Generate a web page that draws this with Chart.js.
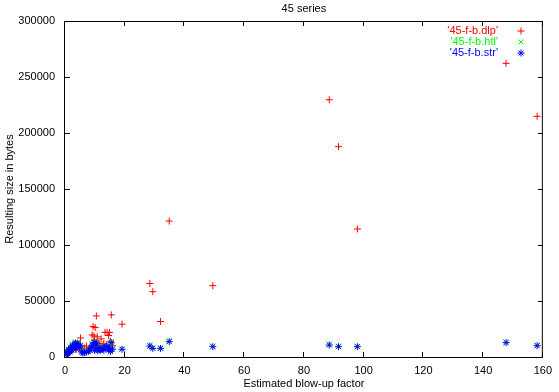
<!DOCTYPE html>
<html>
<head>
<meta charset="utf-8">
<script src="https://cdn.jsdelivr.net/npm/chart.js@4.4.0/dist/chart.umd.min.js"></script>
<style>
  html, body { margin: 0; padding: 0; background: #fff; }
</style>
</head>
<body>
<canvas id="chart" width="559" height="392"></canvas>
<script>
// blow-up factor per file, shared by the three series
const blowUp = [
  0.5, 0.8, 1.0, 1.2, 1.3, 1.6, 1.8, 2.0, 2.3, 2.5,
  2.7, 3.0, 3.3, 3.5, 3.7, 4.0, 4.2, 4.4, 4.8, 5.2,
  5.6, 6.0, 6.5, 7.2, 7.8, 8.3, 8.8, 9.1, 9.4, 9.7,
  9.9, 10.1, 10.5, 10.8, 11.0, 11.4, 11.8, 12.1, 12.8, 13.0,
  13.4, 13.8, 14.1, 14.6, 14.9, 15.2, 15.5, 15.9,
  19.1, 28.4, 29.4, 32.0, 34.9, 49.5, 88.5, 91.6, 97.9, 147.7, 158.1
];
const dlpSizes = [
  1800, 2500, 3000, 4500, 5000, 4000, 6000, 7000, 6000, 8000,
  9000, 8000, 10000, 9000, 7000, 9500, 10500, 9800, 8000, 17000,
  6000, 5000, 8000, 9800, 6000, 7500, 9000, 19700, 27100, 18800,
  15000, 26300, 36700, 18000, 12000, 12000, 10000, 16200, 11000, 12000,
  22000, 11000, 22000, 19200, 22000, 14000, 37600, 10000,
  29300, 65600, 58300, 31700, 121400, 63700, 229700, 187800, 114300, 262200, 214900
];
const htlSizes = [
  2500, 3500, 4500, 7000, 6000, 5000, 9000, 8000, 6500, 11500,
  10000, 9500, 12500, 13500, 7500, 11000, 13000, 12000, 10000, 11000,
  5500, 4500, 5000, 5500, 6000, 7000, 9500, 12000, 11500, 14000,
  7000, 12500, 13500, 9000, 6500, 8500, 7000, 8000, 9000, 7000,
  9500, 10000, 10000, 8000, 9000, 6000, 14000, 8000,
  7500, 10500, 8200, 8200, 14500, 9700, 11500, 9800, 9600, 13500, 10600
];
const strSizes = [
  2000, 3000, 4000, 6500, 5500, 4500, 8000, 7000, 6000, 10500,
  9000, 8500, 11500, 12500, 7000, 10000, 12000, 11000, 9000, 10000,
  4500, 3500, 4000, 4500, 5000, 6000, 8500, 10500, 10000, 13000,
  6000, 11500, 12500, 8000, 5500, 7500, 6000, 7500, 8000, 6000,
  8500, 9000, 9000, 7000, 8000, 5000, 12800, 7000,
  6900, 9800, 7700, 7700, 13700, 9200, 10700, 9200, 9200, 12800, 10100
];
const seriesNames = ["'45-f-b.dlp'", "'45-f-b.htl'", "'45-f-b.str'"];
const xTicks = [0, 20, 40, 60, 80, 100, 120, 140, 160];
const yTicks = [0, 50000, 100000, 150000, 200000, 250000, 300000];

const FONT = "'Liberation Sans', Arial, sans-serif";
const toPoints = (ys) => blowUp.map((x, i) => ({ x: x, y: ys[i] }));

const styles = [
  { color: '#ff0000', pointStyle: 'cross', order: 3 },
  { color: '#00ff00', pointStyle: 'crossRot', order: 2 },
  { color: '#0000ff', pointStyle: 'star', order: 1 }
];
const seriesData = [dlpSizes, htlSizes, strSizes];

// gnuplot look: box border, inward ticks on all sides, title and key
const gnuFrame = {
  id: 'gnuFrame',
  afterDraw(chart) {
    const ctx = chart.ctx;
    const a = chart.chartArea;
    const xs = chart.scales.x, ys = chart.scales.y;
    ctx.save();
    ctx.strokeStyle = '#000';
    ctx.lineWidth = 1;
    ctx.strokeRect(a.left - 0.5, a.top + 0.5, a.right - a.left, a.bottom - a.top);
    ctx.beginPath();
    xTicks.forEach(v => {
      const px = Math.round(xs.getPixelForValue(v)) - 0.5;
      ctx.moveTo(px, a.bottom); ctx.lineTo(px, a.bottom - 5);
      ctx.moveTo(px, a.top); ctx.lineTo(px, a.top + 5);
    });
    yTicks.forEach(v => {
      const py = Math.round(ys.getPixelForValue(v)) + 0.5;
      ctx.moveTo(a.left, py); ctx.lineTo(a.left + 5, py);
      ctx.moveTo(a.right, py); ctx.lineTo(a.right - 5, py);
    });
    ctx.stroke();

    ctx.font = '11px ' + FONT;
    ctx.fillStyle = '#000';
    ctx.textAlign = 'center';
    ctx.textBaseline = 'middle';
    ctx.fillText('45 series', (a.left + a.right) / 2, 9);

    ctx.textAlign = 'right';
    seriesNames.forEach((name, i) => {
      const y = 31 + i * 11;
      ctx.fillStyle = styles[i].color;
      ctx.fillText(name, 498, y);
      ctx.strokeStyle = styles[i].color;
      Chart.helpers.drawPoint(ctx, { pointStyle: styles[i].pointStyle, radius: 3.5, rotation: 0, borderWidth: 1 }, 521, y);
    });
    ctx.restore();
  }
};

new Chart(document.getElementById('chart'), {
  type: 'scatter',
  data: {
    datasets: seriesData.map((ys, i) => ({
      label: seriesNames[i],
      data: toPoints(ys),
      order: styles[i].order,
      pointStyle: styles[i].pointStyle,
      radius: 3.5,
      borderWidth: 1,
      borderColor: styles[i].color,
      backgroundColor: styles[i].color
    }))
  },
  options: {
    responsive: false,
    animation: false,
    layout: { padding: { top: 21, right: 10, left: 0, bottom: 0 } },
    plugins: { legend: { display: false }, tooltip: { enabled: false }, title: { display: false } },
    scales: {
      x: {
        type: 'linear', min: 0, max: 160,
        afterFit: (s) => { s.height = 35; },
        afterBuildTicks: (s) => { s.ticks = xTicks.map(v => ({ value: v })); },
        ticks: { color: '#000', font: { family: FONT, size: 11 }, padding: 7, maxRotation: 0, callback: v => String(v) },
        grid: { display: false, drawTicks: false },
        border: { display: false },
        title: { display: true, text: 'Estimated blow-up factor', color: '#000', font: { family: FONT, size: 11 }, padding: { top: 0, bottom: 1 } }
      },
      y: {
        type: 'linear', min: 0, max: 300000,
        afterFit: (s) => { s.width = 65; },
        afterBuildTicks: (s) => { s.ticks = yTicks.map(v => ({ value: v })); },
        ticks: { color: '#000', font: { family: FONT, size: 11 }, padding: 10, callback: v => String(v) },
        grid: { display: false, drawTicks: false },
        border: { display: false },
        title: { display: true, text: 'Resulting size in bytes', color: '#000', font: { family: FONT, size: 11 }, padding: { top: 3, bottom: 0 } }
      }
    }
  },
  plugins: [gnuFrame]
});
</script>
</body>
</html>
